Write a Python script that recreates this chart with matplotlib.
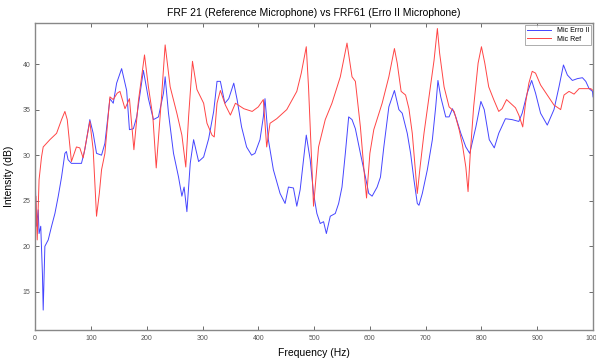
import matplotlib
matplotlib.use("Agg")
import matplotlib.pyplot as plt

plt.rcParams['font.family'] = ['Liberation Sans', 'DejaVu Sans']

# Mic Erro II (blue)
freq_erro = [0, 1.3, 2.5, 5.4, 7, 10, 13, 14.4, 17.4, 23.4,
             29.4, 35.4, 41.4, 47.3, 53.3, 56, 59, 65, 83, 89,
             98, 104, 110, 119, 125, 134, 140, 146, 155, 164,
             169, 176, 182, 194, 203, 212, 221, 230, 233, 239,
             248, 257, 263, 267, 272, 278, 284, 293, 302, 311,
             320, 326, 332, 340, 347, 356, 362, 370, 379, 388,
             394, 403, 409, 412, 418, 427, 439, 448, 454, 463,
             469, 475, 481, 486, 493, 499, 505, 511, 517, 522,
             529, 538, 544, 550, 556, 562, 568, 574, 583, 592,
             598, 604, 613, 619, 625, 634, 644, 652, 658, 667,
             673, 679, 685, 688, 694, 703, 712, 718, 722, 727,
             736, 742, 748, 754, 763, 772, 779, 790, 799, 805,
             814, 823, 831, 843, 855, 867, 873, 882, 890, 897,
             906, 918, 930, 939, 947, 954, 963, 972, 981, 987,
             993, 999, 1000]
db_erro = [28.0, 24.4, 22.2, 24.0, 21.4, 22.2, 17.0, 13.0, 20.0, 20.7,
           22.2, 23.6, 25.5, 27.6, 30.2, 30.4, 29.5, 29.1, 29.1, 30.6,
           33.9, 32.4, 30.2, 30.0, 31.3, 36.2, 35.7, 37.9, 39.5, 37.1,
           32.8, 32.9, 34.2, 39.3, 36.2, 33.9, 34.2, 36.8, 38.6, 34.6,
           30.2, 27.6, 25.5, 26.5, 23.8, 29.1, 31.7, 29.3, 29.8, 31.8,
           34.8, 38.1, 38.1, 35.7, 36.2, 37.9, 36.1, 33.1, 30.9, 30.0,
           30.2, 31.7, 34.2, 36.2, 31.7, 28.4, 25.8, 24.7, 26.5, 26.4,
           24.4, 26.2, 29.5, 32.2, 29.5, 25.8, 23.6, 22.5, 22.7, 21.4,
           23.3, 23.6, 24.7, 26.5, 30.2, 34.2, 33.9, 32.9, 30.2, 27.6,
           25.8, 25.5, 26.5, 27.6, 30.9, 35.3, 37.1, 35.0, 34.6, 32.4,
           30.2, 27.3, 24.7, 24.5, 25.8, 28.4, 31.7, 35.3, 38.2, 36.4,
           34.2, 34.2, 35.1, 34.2, 32.4, 30.9, 30.2, 33.1, 35.9, 35.0,
           31.7, 30.8, 32.4, 34.0, 33.9, 33.7, 34.6, 36.8, 38.2, 36.8,
           34.6, 33.3, 35.0, 37.5, 39.9, 38.8, 38.2, 38.4, 38.5, 38.1,
           37.3, 37.0, 36.4]

# Mic Ref (red)
freq_ref = [0, 1.3, 3.7, 7, 11.4, 14.4, 26.4, 38.4, 47.3, 53.3,
            57.5, 65, 74, 80, 86, 98, 104, 110, 115, 119,
            125, 134, 140, 147, 152, 161, 169, 177, 185, 196,
            203, 211, 217, 226, 233, 242, 254, 263, 270, 275,
            282, 290, 302, 308, 317, 321, 326, 332, 341, 350,
            359, 374, 389, 400, 409, 415, 421, 433, 451, 469,
            477, 486, 490, 495, 499, 502, 508, 520, 532, 547,
            559, 568, 574, 583, 589, 594, 600, 607, 622, 634,
            644, 649, 656, 664, 670, 676, 680, 685, 690, 697,
            706, 715, 721, 725, 733, 742, 751, 760, 766, 772,
            776, 780, 786, 794, 800, 806, 813, 822, 831, 837,
            845, 852, 861, 867, 874, 879, 885, 891, 897, 906,
            918, 930, 942, 948, 957, 966, 975, 984, 996, 1000]
db_ref = [20.7, 25.5, 20.7, 27.3, 29.8, 30.9, 31.7, 32.4, 33.9, 34.8,
          33.9, 29.3, 30.9, 30.8, 29.7, 33.7, 30.6, 23.3, 25.8, 28.4,
          30.2, 36.4, 36.1, 36.8, 37.0, 35.1, 36.2, 30.6, 35.9, 41.0,
          37.5, 34.2, 28.6, 35.9, 42.1, 37.5, 34.6, 32.2, 28.7, 34.2,
          40.3, 37.2, 35.7, 33.5, 32.2, 32.0, 35.7, 37.1, 35.5, 34.4,
          35.7, 35.1, 34.8, 35.3, 36.1, 30.9, 33.5, 34.0, 35.0, 37.0,
          39.0, 41.9, 37.5, 30.2, 24.4, 26.5, 30.9, 33.9, 35.7, 38.6,
          42.3, 38.6, 38.1, 33.1, 28.7, 25.3, 30.2, 32.8, 35.7, 38.6,
          41.7, 40.1, 37.0, 36.6, 35.1, 32.4, 29.5, 25.8, 28.7, 32.4,
          36.4, 40.4, 43.9, 41.2, 37.5, 35.3, 34.8, 32.8, 31.1, 28.7,
          26.0, 30.2, 35.3, 40.1, 41.9, 40.1, 37.5, 36.1, 34.8, 35.1,
          36.1, 35.7, 35.2, 34.4, 33.1, 35.7, 37.9, 39.2, 39.0, 37.7,
          36.6, 35.5, 35.0, 36.6, 37.0, 36.7, 37.3, 37.3, 37.3, 37.1]

xticks = list(range(0, 1001, 100))
yticks = [15, 20, 25, 30, 35, 40]

fig = plt.figure(figsize=(5.96, 3.6), dpi=100)
ax = fig.add_axes([0.059, 0.083, 0.936, 0.853])

ax.plot(freq_erro, db_erro, color='#4545ff', lw=0.7, label='Mic Erro II')
ax.plot(freq_ref, db_ref, color='#ff4545', lw=0.7, label='Mic Ref')

ax.set_xlim(0, 1000)
ax.set_ylim(10.8, 44.5)
ax.set_xticks(xticks)
ax.set_yticks(yticks)
ax.tick_params(direction='in', top=True, right=True, labelsize=5,
               colors='#555555', length=3, width=0.6)
for sp in ax.spines.values():
    sp.set_color('#888888')
    sp.set_linewidth(1.0)

ax.set_title('FRF 21 (Reference Microphone) vs FRF61 (Erro II Microphone)',
             fontsize=7.5, pad=5)
ax.set_xlabel('Frequency (Hz)', fontsize=7.5, labelpad=4)
ax.set_ylabel('Intensity (dB)', fontsize=7.5, labelpad=6)

leg = ax.legend(loc='upper right', fontsize=5, frameon=True, fancybox=False,
                handlelength=3.5, borderaxespad=0.3, borderpad=0.3,
                labelspacing=0.2)
leg.get_frame().set_edgecolor('#888888')
leg.get_frame().set_linewidth(0.6)

fig.savefig('out.png', dpi=100)
